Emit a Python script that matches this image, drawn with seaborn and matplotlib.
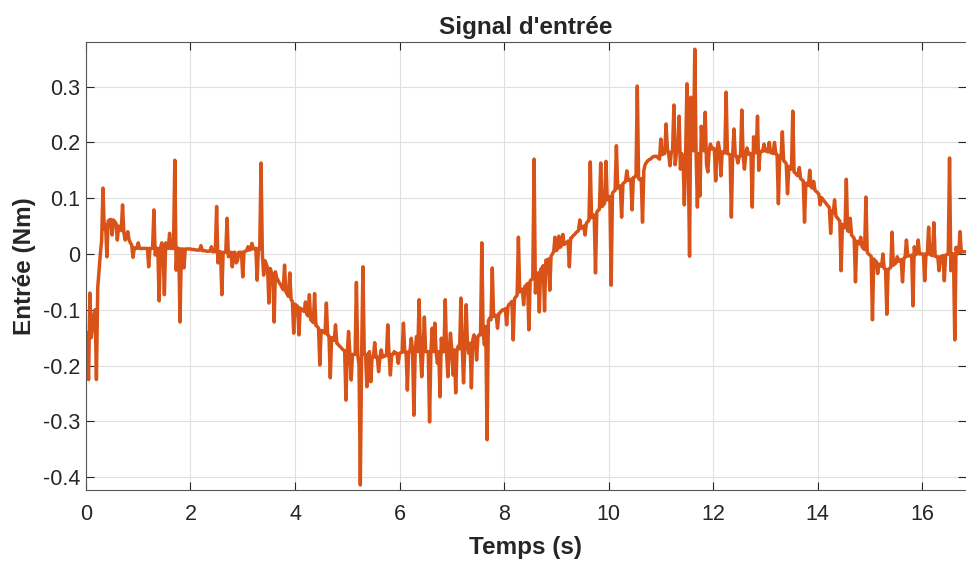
import numpy as np
import pandas as pd
import matplotlib
matplotlib.use('Agg')
import matplotlib.pyplot as plt
import seaborn as sns

# Pas d'échantillonnage (s)
dt = 0.025

# Entrée (Nm), une ligne = 1 seconde (40 échantillons)
entree = [
    # 0 - 1 s
    -0.14, -0.18, -0.225, -0.07, -0.15, -0.13, -0.11, -0.1, -0.225, -0.06,
    -0.03, 0.0, 0.025, 0.118, 0.045, 0.052, -0.005, 0.059, 0.061, 0.062,
    0.034, 0.061, 0.058, 0.055, 0.025, 0.05, 0.045, 0.042, 0.088, 0.038,
    0.025, 0.032, 0.04, 0.025, 0.02, 0.016, -0.006, 0.011, 0.01, 0.01,
    # 1 - 2 s
    0.02, 0.01, 0.01, 0.01, 0.01, 0.01, 0.01, 0.01, -0.023, 0.01,
    0.01, 0.01, 0.079, -0.002, 0.01, 0.01, -0.084, 0.01, 0.02, 0.01,
    -0.073, 0.02, 0.01, 0.01, 0.037, 0.01, 0.01, 0.01, 0.168, -0.029,
    0.01, 0.01, -0.122, 0.009, 0.009, -0.025, 0.009, 0.009, 0.009, 0.009,
    # 2 - 3 s
    0.009, 0.008, 0.008, 0.008, 0.007, 0.007, 0.007, 0.007, 0.015, 0.006,
    0.006, 0.006, 0.005, 0.005, 0.005, 0.005, 0.013, 0.004, 0.004, 0.004,
    0.085, -0.016, 0.004, 0.004, -0.073, 0.003, 0.003, 0.003, 0.064, -0.005,
    0.003, 0.003, -0.023, 0.003, 0.003, -0.016, -0.012, 0.003, 0.003, 0.003,
    # 3 - 4 s
    -0.041, 0.004, 0.005, 0.006, 0.013, 0.007, 0.008, 0.019, 0.009, 0.01,
    0.01, -0.047, 0.01, 0.009, 0.163, 0.0, -0.038, -0.012, -0.018, -0.025,
    -0.088, -0.026, -0.033, -0.036, -0.122, -0.032, -0.043, -0.047, -0.052, -0.055,
    -0.06, -0.064, -0.02, -0.068, -0.072, -0.076, -0.034, -0.082, -0.085, -0.142,
    # 4 - 5 s
    -0.09, -0.092, -0.094, -0.145, -0.097, -0.099, -0.101, -0.103, -0.086, -0.108,
    -0.111, -0.073, -0.118, -0.12, -0.123, -0.071, -0.128, -0.13, -0.133, -0.199,
    -0.137, -0.138, -0.14, -0.142, -0.088, -0.145, -0.147, -0.222, -0.15, -0.152,
    -0.155, -0.127, -0.16, -0.162, -0.165, -0.167, -0.17, -0.172, -0.174, -0.262,
    # 5 - 6 s
    -0.176, -0.139, -0.178, -0.226, -0.18, -0.18, -0.18, -0.051, -0.18, -0.2,
    -0.414, -0.18, -0.023, -0.18, -0.18, -0.238, -0.18, -0.175, -0.229, -0.185,
    -0.185, -0.159, -0.185, -0.185, -0.211, -0.185, -0.172, -0.185, -0.183, -0.183,
    -0.182, -0.127, -0.182, -0.217, -0.18, -0.18, -0.175, -0.178, -0.178, -0.196,
    # 6 - 7 s
    -0.178, -0.177, -0.176, -0.124, -0.176, -0.176, -0.244, -0.175, -0.175, -0.151,
    -0.175, -0.289, -0.175, -0.148, -0.175, -0.082, -0.175, -0.22, -0.175, -0.113,
    -0.175, -0.175, -0.175, -0.301, -0.175, -0.133, -0.175, -0.124, -0.175, -0.196,
    -0.175, -0.256, -0.151, -0.175, -0.175, -0.082, -0.175, -0.22, -0.175, -0.142,
    # 7 - 8 s
    -0.172, -0.217, -0.172, -0.249, -0.172, -0.165, -0.17, -0.079, -0.168, -0.231,
    -0.165, -0.091, -0.162, -0.178, -0.16, -0.24, -0.155, -0.145, -0.152, -0.19,
    -0.148, -0.145, -0.145, 0.02, -0.14, -0.163, -0.13, -0.333, -0.12, -0.115,
    -0.118, -0.025, -0.112, -0.11, -0.11, -0.133, -0.107, -0.105, -0.102, -0.1,
    # 8 - 9 s
    -0.1, -0.098, -0.127, -0.094, -0.09, -0.088, -0.085, -0.154, -0.08, -0.077,
    -0.074, 0.03, -0.068, -0.066, -0.063, -0.091, -0.058, -0.056, -0.053, -0.136,
    -0.048, -0.046, -0.044, 0.17, -0.07, -0.037, -0.034, -0.104, -0.028, -0.025,
    -0.021, -0.102, -0.011, -0.012, -0.009, -0.065, -0.004, 0.0, 0.004, 0.03,
    # 9 - 10 s
    0.006, 0.009, 0.032, 0.012, 0.015, 0.035, 0.017, 0.019, 0.021, 0.023,
    -0.023, 0.028, 0.03, 0.033, 0.035, 0.038, 0.04, 0.042, 0.061, 0.046,
    0.048, 0.05, 0.034, 0.055, 0.058, 0.06, 0.165, 0.065, 0.068, 0.07,
    -0.034, 0.075, 0.078, 0.08, 0.163, 0.085, 0.088, 0.091, 0.166, 0.097,
    # 10 - 11 s
    0.1, 0.103, -0.056, 0.109, 0.112, 0.114, 0.194, 0.118, 0.12, 0.122,
    0.066, 0.126, 0.128, 0.13, 0.149, 0.132, 0.133, 0.134, 0.079, 0.137,
    0.138, 0.14, 0.301, 0.135, 0.133, 0.135, 0.057, 0.15, 0.16, 0.164,
    0.167, 0.169, 0.17, 0.172, 0.174, 0.175, 0.175, 0.175, 0.172, 0.17,
    # 11 - 12 s
    0.206, 0.178, 0.18, 0.18, 0.233, 0.19, 0.18, 0.158, 0.182, 0.185,
    0.267, 0.16, 0.182, 0.19, 0.247, 0.152, 0.18, 0.17, 0.088, 0.18,
    0.305, 0.17, -0.004, 0.281, 0.2, 0.185, 0.367, 0.18, 0.084, 0.18,
    0.104, 0.229, 0.19, 0.185, 0.254, 0.16, 0.147, 0.185, 0.197, 0.188,
    # 12 - 13 s
    0.19, 0.188, 0.131, 0.186, 0.2, 0.185, 0.14, 0.183, 0.182, 0.181,
    0.29, 0.18, 0.179, 0.178, 0.066, 0.177, 0.224, 0.176, 0.175, 0.163,
    0.175, 0.176, 0.258, 0.177, 0.152, 0.178, 0.19, 0.179, 0.18, 0.18,
    0.084, 0.21, 0.181, 0.182, 0.247, 0.15, 0.183, 0.184, 0.184, 0.197,
    # 13 - 14 s
    0.185, 0.184, 0.183, 0.2, 0.182, 0.181, 0.18, 0.2, 0.18, 0.178,
    0.09, 0.175, 0.172, 0.219, 0.167, 0.165, 0.162, 0.108, 0.157, 0.155,
    0.152, 0.256, 0.147, 0.145, 0.142, 0.14, 0.155, 0.135, 0.133, 0.131,
    0.057, 0.127, 0.125, 0.123, 0.15, 0.12, 0.118, 0.13, 0.114, 0.112,
    # 14 - 15 s
    0.11, 0.107, 0.088, 0.101, 0.098, 0.095, 0.092, 0.089, 0.086, 0.083,
    0.037, 0.077, 0.074, 0.097, 0.068, 0.065, 0.062, 0.059, -0.03, 0.053,
    0.05, 0.047, 0.134, 0.042, 0.04, 0.064, 0.034, 0.031, 0.028, -0.05,
    0.023, 0.02, 0.018, 0.03, 0.013, 0.01, 0.008, 0.102, 0.003, 0.0,
    # 15 - 16 s
    -0.002, -0.004, -0.118, -0.009, -0.012, -0.014, -0.035, -0.018, -0.02, -0.022,
    0.0, -0.026, -0.027, -0.108, -0.028, -0.026, -0.024, 0.039, -0.02, -0.018,
    -0.016, -0.005, -0.013, -0.012, -0.01, -0.05, -0.008, -0.006, 0.025, -0.004,
    -0.003, -0.003, -0.002, -0.093, 0.013, -0.001, 0.0, 0.025, 0.0, 0.0,
    # 16 - 16.85 s
    0.0, 0.0, -0.048, 0.0, 0.0, 0.048, -0.001, -0.002, -0.003, 0.056,
    -0.004, -0.005, -0.005, -0.03, -0.005, -0.004, -0.003, -0.048, -0.002, -0.001,
    0.0, 0.172, -0.03, 0.0, 0.0, -0.154, 0.012, 0.0, 0.002, 0.04,
    0.003, 0.004, 0.004, 0.004, 0.004,
]
temps = np.arange(len(entree)) * dt

x_ticks = [0, 2, 4, 6, 8, 10, 12, 14, 16]
y_ticks = [-0.4, -0.3, -0.2, -0.1, 0, 0.1, 0.2, 0.3]
y_ticklabels = ['-0.4', '-0.3', '-0.2', '-0.1', '0', '0.1', '0.2', '0.3']

df = pd.DataFrame({'Temps': temps, 'Entree': entree})

sns.set_theme(style='ticks')
plt.rcParams['font.family'] = ['Liberation Sans', 'DejaVu Sans']
plt.rcParams['axes.unicode_minus'] = False

fig = plt.figure(figsize=(9.66, 5.61), dpi=100)
ax = fig.add_axes([0.089, 0.1266, 0.911, 0.7986])

sns.lineplot(data=df, x='Temps', y='Entree', estimator=None, color='#D95319',
             linewidth=2.5, ax=ax)

ax.set_xlim(0, 16.84)
ax.set_ylim(-0.423, 0.38)
ax.set_xticks(x_ticks)
ax.set_yticks(y_ticks)
ax.set_yticklabels(y_ticklabels)
ax.grid(True, color='#e0e0e0', linewidth=0.8)
ax.set_axisbelow(True)
ax.tick_params(direction='in', length=6, width=0.8, colors='#262626',
               labelsize=15.5, top=True, right=True)
ax.tick_params(axis='y', pad=4)
ax.tick_params(axis='x', pad=10)
for s in ax.spines.values():
    s.set_color('#555555')
    s.set_linewidth(0.8)
ax.spines['right'].set_visible(False)

ax.set_title("Signal d'entrée", fontsize=17.5, fontweight='bold', pad=6)
ax.set_xlabel('Temps (s)', fontsize=17.5, fontweight='bold', labelpad=8)
ax.set_ylabel('Entrée (Nm)', fontsize=17.5, fontweight='bold', labelpad=5)

fig.savefig('out.png', dpi=100)
plt.close(fig)
